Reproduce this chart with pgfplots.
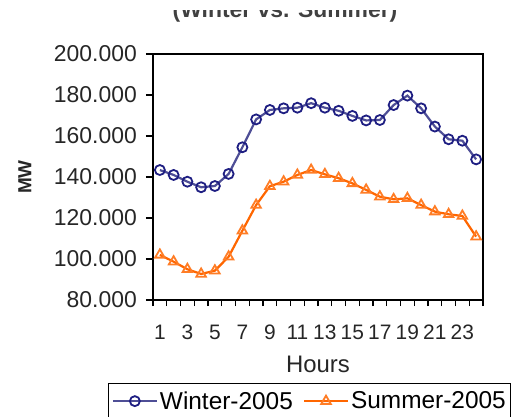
\documentclass[border=0pt]{standalone}
\usepackage{pgfplots}
\pgfplotsset{compat=1.18}
\usepackage{fontspec}
\setmainfont{Liberation Sans}
\definecolor{winterline}{RGB}{78,78,150}
\definecolor{wintermark}{RGB}{30,30,130}
\definecolor{summerline}{RGB}{255,102,0}
\begin{document}
\begin{tikzpicture}
\useasboundingbox (0,0) rectangle (516bp,417bp);
\clip (0,0) rectangle (516bp,417bp);
\begin{axis}[
  at={(153bp,117bp)}, anchor=south west,
  scale only axis, width=330bp, height=246bp,
  xmin=0.5, xmax=24.5, ymin=80000, ymax=200000,
  xtick={1,3,...,23},
  minor xtick={0.5,1.5,...,24.5},
  ytick={80000,100000,120000,140000,160000,180000,200000},
  yticklabels={80.000,100.000,120.000,140.000,160.000,180.000,200.000},
  scaled y ticks=false,
  /pgf/number format/assume math mode=true,
  tick align=outside, tick pos=left,
  major tick length=7bp, minor tick length=6bp,
  major x tick style={draw=none},
  every tick/.style={black, line width=1.3bp},
  every minor tick/.style={black, line width=1.3bp},
  axis line style={line width=1.5bp, black},
  ticklabel style={text=black!85},
  yticklabel style={font=\fontsize{23}{26}\selectfont, inner sep=0pt, xshift=-9bp},
  xticklabel style={font=\fontsize{21}{24}\selectfont, inner sep=0pt, yshift=-18bp},
  xlabel={Hours},
  xlabel style={font=\fontsize{24}{28}\selectfont, text=black!85, at={(axis description cs:0.5,-0.293)}, anchor=base},
  ylabel={MW},
  ylabel style={font=\fontsize{19}{22}\selectfont\bfseries, text=black!85, at={(axis description cs:-0.388,0.5)}, anchor=center},
  legend columns=2,
  legend style={at={(axis description cs:-0.136,-0.337)}, anchor=north west,
    draw=black, line width=1.3bp, font=\fontsize{24.5}{28}\selectfont,
    inner xsep=3bp, inner ysep=6bp,
    /tikz/every even column/.append style={column sep=8bp}},
  legend image code/.code={\draw[mark repeat=2,mark phase=2,#1] plot coordinates {(0bp,0bp)(22bp,0bp)(44bp,0bp)};},
]
\addplot[winterline, line width=2.2bp, mark=o, mark size=5bp,
  mark options={draw=wintermark, fill=white, line width=1.8bp}]
coordinates {
(1,143400)(2,141000)(3,137700)(4,135000)(5,135600)(6,141500)
(7,154500)(8,168100)(9,172700)(10,173500)(11,173800)(12,176000)
(13,173800)(14,172300)(15,169800)(16,167600)(17,167800)(18,175100)
(19,179700)(20,173500)(21,164600)(22,158400)(23,157700)(24,148600)};
\addlegendentry{Winter-2005}
\addplot[summerline, line width=2.2bp, mark=triangle, mark size=5.5bp,
  mark options={draw=summerline!85, fill=white, line width=1.8bp}]
coordinates {
(1,102000)(2,98700)(3,95000)(4,92700)(5,94300)(6,101100)
(7,113800)(8,126300)(9,135500)(10,137700)(11,141000)(12,143400)
(13,141300)(14,139400)(15,136900)(16,133700)(17,130400)(18,129100)
(19,129600)(20,126300)(21,123100)(22,121800)(23,121000)(24,110900)};
\addlegendentry{Summer-2005}
\end{axis}
\node[anchor=base, font=\fontsize{23}{26}\selectfont\bfseries, text=black!75] at (285bp,399bp) {(Winter vs. Summer)};
\fill[white] (0bp,407bp) rectangle (516bp,418bp);
\end{tikzpicture}
\end{document}
